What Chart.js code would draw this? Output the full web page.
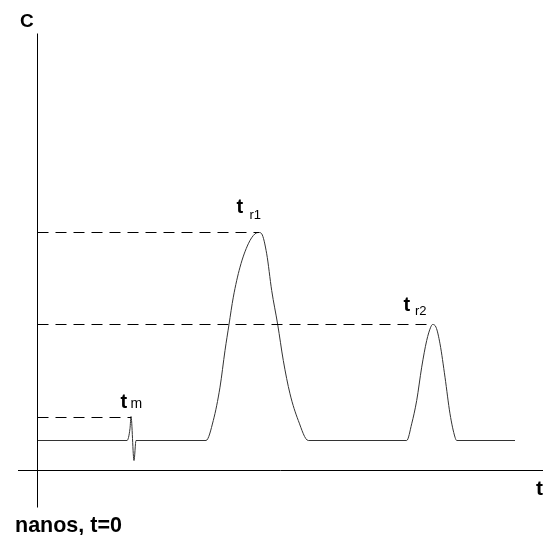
<!DOCTYPE html>
<html>
<head>
<meta charset="utf-8">
<style>
  html, body { margin: 0; padding: 0; background: #ffffff; }
  #wrap { position: relative; width: 543px; height: 535px; }
</style>
<script src="https://cdn.jsdelivr.net/npm/chart.js@4/dist/chart.umd.min.js"></script>
</head>
<body>
<div id="wrap"><canvas id="c" width="543" height="535"></canvas></div>
<script>
// ---- Data (time t, concentration C) ----
const baselineLevel = 3.0;
const tm = 9.35, tmLevel = 5.3;
const tr1 = 22.15, tr1Level = 23.8;
const tr2 = 39.5, tr2Level = 14.6;

// signal: baseline with dead-time spike and two peaks
const signalX = [0, 8.95, 9.25, 9.35, 9.65, 9.85, 16.85,
  17.58, 18.25, 18.75, 19.15, 19.58, 20.25, 21.08, 21.75, 22.15,
  22.42, 22.92, 23.42, 24.02, 24.58, 25.25, 26.08, 27.08,
  36.92, 37.42, 37.92, 38.42, 38.92, 39.32, 39.5, 39.85, 40.25, 40.75, 41.25, 41.75, 41.92,
  47.75];
const signalY = [3.0, 3.0, 4.2, 5.4, 1.0, 3.0, 3.0,
  5.0, 8.33, 12.0, 14.6, 17.33, 20.33, 22.67, 23.67, 23.8,
  23.67, 21.67, 18.0, 14.6, 11.0, 7.67, 5.0, 3.0,
  3.0, 4.67, 7.0, 10.33, 13.0, 14.33, 14.6, 14.33, 12.67, 9.33, 5.67, 3.33, 3.0,
  3.0];

// axes extents
const xAxisFrom = -1.95, xAxisTo = 50.55;
const yAxisFrom = -3.7, yAxisTo = 43.7;

// labels
const labelC = 'C';
const labelT = 't';
const labelOrigin = 'nanos, t=0';
const peakMain = ['t', 't', 't'];
const peakSubs = ['m', 'r1', 'r2'];

const pts = (xs, ys) => xs.map((x, i) => ({ x: x, y: ys[i] }));

const datasets = [
  { // y axis (C)
    data: [{x: 0, y: yAxisFrom}, {x: 0, y: yAxisTo}],
    borderColor: '#000', borderWidth: 1, pointRadius: 0, tension: 0
  },
  { // x axis (t)
    data: [{x: xAxisFrom, y: 0}, {x: xAxisTo, y: 0}],
    borderColor: '#000', borderWidth: 1, pointRadius: 0, tension: 0
  },
  { // tm level
    data: [{x: 0, y: tmLevel}, {x: tm, y: tmLevel}],
    borderColor: '#000', borderWidth: 1, borderDash: [11, 7], pointRadius: 0
  },
  { // tr1 level
    data: [{x: 0, y: tr1Level}, {x: tr1, y: tr1Level}],
    borderColor: '#000', borderWidth: 1, borderDash: [11, 7], pointRadius: 0
  },
  { // tr2 level
    data: [{x: 0, y: tr2Level}, {x: tr2, y: tr2Level}],
    borderColor: '#000', borderWidth: 1, borderDash: [11, 7], pointRadius: 0
  },
  { // signal
    data: pts(signalX, signalY),
    borderColor: '#333', borderWidth: 1, pointRadius: 0,
    cubicInterpolationMode: 'monotone'
  }
];

const textPlugin = {
  id: 'texts',
  afterDatasetsDraw(chart) {
    const ctx = chart.ctx;
    const xs = chart.scales.x, ys = chart.scales.y;
    const px = v => xs.getPixelForValue(v);
    const py = v => ys.getPixelForValue(v);
    ctx.save();
    ctx.fillStyle = '#000';
    ctx.textBaseline = 'alphabetic';
    ctx.textAlign = 'left';
    const bold = s => 'bold ' + s + 'px "Liberation Sans", Arial, sans-serif';
    const reg = s => s + 'px "Liberation Sans", Arial, sans-serif';
    // axis letters
    ctx.font = bold(19);
    ctx.fillText(labelC, px(-1.75), py(44.35));
    ctx.font = bold(21);
    ctx.fillText(labelT, px(49.85), py(-2.45));
    ctx.font = bold(21.5);
    ctx.fillText(labelOrigin, px(-2.25), py(-6.1));
    // peak labels
    const drawLab = (main, sub, xMain, yMain, xSub, ySub, subSize) => {
      ctx.font = bold(20);
      ctx.fillText(main, px(xMain), py(yMain));
      ctx.font = reg(subSize);
      ctx.fillText(sub, px(xSub), py(ySub));
    };
    drawLab(peakMain[0], peakSubs[0], tm - 1.05, tmLevel + 0.95, tm - 0.05, tmLevel + 0.95, 14);
    drawLab(peakMain[1], peakSubs[1], tr1 - 2.25, tr1Level + 2.0, tr1 - 0.95, tr1Level + 1.4, 13);
    drawLab(peakMain[2], peakSubs[2], tr2 - 2.9, tr2Level + 1.4, tr2 - 1.75, tr2Level + 1.0, 13);
    ctx.restore();
  }
};

new Chart(document.getElementById('c'), {
  type: 'line',
  data: { datasets: datasets },
  options: {
    responsive: false,
    animation: false,
    layout: { padding: 0 },
    plugins: { legend: { display: false }, tooltip: { enabled: false }, title: { display: false } },
    scales: {
      x: { type: 'linear', min: -3.75, max: 50.55, display: false },
      y: { type: 'linear', min: -6.45, max: 47.05, display: false }
    },
    elements: { line: { borderCapStyle: 'butt' } }
  },
  plugins: [textPlugin]
});
</script>
</body>
</html>
